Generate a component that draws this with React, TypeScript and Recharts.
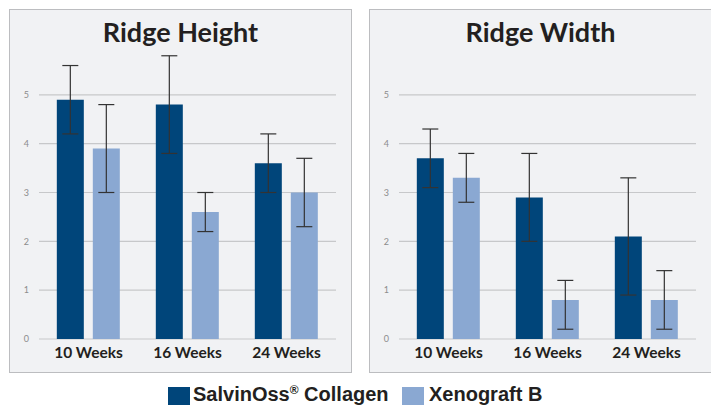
import React from "react";
import { Bar, BarChart, CartesianGrid, ErrorBar, XAxis, YAxis } from "recharts";

const weeks = ["10 Weeks", "16 Weeks", "24 Weeks"];
const yTicks = [0, 1, 2, 3, 4, 5];

// Ridge height (mm)
const heightCollagen = [4.9, 4.8, 3.6];
const heightCollagenErr = [0.7, 1.0, 0.6];
const heightXeno = [3.9, 2.6, 3.0];
const heightXenoErr = [0.9, 0.4, 0.7];

// Ridge width (mm), [minus, plus]
const widthCollagen = [3.7, 2.9, 2.1];
const widthCollagenErr = [0.6, 0.9, 1.2];
const widthXeno = [3.3, 0.8, 0.8];
const widthXenoErr = [[0.5, 0.5], [0.6, 0.4], [0.6, 0.6]];

const DARK = "#00457a";
const LIGHT = "#8aa8d2";
const ERR = "#333333";

const buildRows = (a: number[], aErr: any[], b: number[], bErr: any[]) =>
  weeks.map((w, i) => ({
    week: w,
    collagen: a[i],
    collagenErr: aErr[i],
    xeno: b[i],
    xenoErr: bErr[i],
  }));

const heightData = buildRows(heightCollagen, heightCollagenErr, heightXeno, heightXenoErr);
const widthData = buildRows(widthCollagen, widthCollagenErr, widthXeno, widthXenoErr);

type PanelProps = {
  title: string;
  left: number;
  data: object[];
};

const Panel = ({ title, left, data }: PanelProps) => {
  return (
    <div
      style={{
        position: "absolute",
        left,
        top: 9,
        width: 343,
        height: 364,
        boxSizing: "border-box",
        border: "1px solid #bcbdc0",
        background: "#f1f2f4",
      }}
    >
      <div
        style={{
          position: "absolute",
          left: 0,
          right: 0,
          top: 6,
          textAlign: "center",
          fontFamily: "Lato, sans-serif",
          fontWeight: 700,
          fontSize: 27,
          lineHeight: "32px",
          color: "#231f20",
        }}
      >
        {title}
      </div>
      <div style={{ position: "absolute", left: -1, top: -1 }}>
        <BarChart
          width={343}
          height={364}
          data={data}
          margin={{ top: 37, right: 16, left: 0, bottom: 0 }}
          barCategoryGap="18%"
          barGap={9}
        >
          <CartesianGrid
            vertical={false}
            horizontalValues={yTicks}
            stroke="#c7c8ca"
            strokeWidth={1.2}
          />
          <XAxis
            dataKey="week"
            height={34}
            axisLine={false}
            tickLine={false}
            tick={{ fill: "#231f20", fontSize: 15.5, fontWeight: 700, fontFamily: "Lato, sans-serif" }}
          />
          <YAxis
            width={30}
            domain={[0, 6]}
            ticks={yTicks}
            axisLine={false}
            tickLine={false}
            tickMargin={4}
            tick={{ fill: "#8c8c8c", fontSize: 9, fontFamily: "Lato, sans-serif" }}
          />
          <Bar dataKey="collagen" name="SalvinOss® Collagen" fill={DARK} isAnimationActive={false}>
            <ErrorBar dataKey="collagenErr" direction="y" width={8} stroke={ERR} strokeWidth={1.2} />
          </Bar>
          <Bar dataKey="xeno" name="Xenograft B" fill={LIGHT} isAnimationActive={false}>
            <ErrorBar dataKey="xenoErr" direction="y" width={8} stroke={ERR} strokeWidth={1.2} />
          </Bar>
        </BarChart>
      </div>
    </div>
  );
};

const legendItems = [
  { label: "SalvinOss", sup: "®", rest: " Collagen", color: DARK, x: 168 },
  { label: "Xenograft B", sup: "", rest: "", color: LIGHT, x: 402 },
];

export default function App() {
  return (
    <div
      style={{
        position: "absolute",
        left: 0,
        top: 0,
        width: 711,
        height: 405,
        overflow: "hidden",
        background: "#ffffff",
      }}
    >
      <Panel title="Ridge Height" left={9} data={heightData} />
      <Panel title="Ridge Width" left={369} data={widthData} />
      {legendItems.map((it, i) => (
        <div
          key={i}
          style={{
            position: "absolute",
            left: it.x,
            top: 383,
            display: "flex",
            alignItems: "flex-start",
            fontFamily: "'Liberation Sans', Arial, sans-serif",
            fontWeight: 700,
            fontSize: 20,
            lineHeight: "23px",
            color: "#231f20",
            whiteSpace: "nowrap",
          }}
        >
          <span
            style={{
              display: "inline-block",
              width: 22,
              height: 22,
              marginTop: 4,
              background: it.color,
              marginRight: i === 0 ? 3 : 5,
            }}
          />
          <span>
            {it.label}
            {it.sup && (
              <sup style={{ fontSize: 12, verticalAlign: "7px", lineHeight: 0 }}>{it.sup}</sup>
            )}
            {it.rest}
          </span>
        </div>
      ))}
    </div>
  );
}
